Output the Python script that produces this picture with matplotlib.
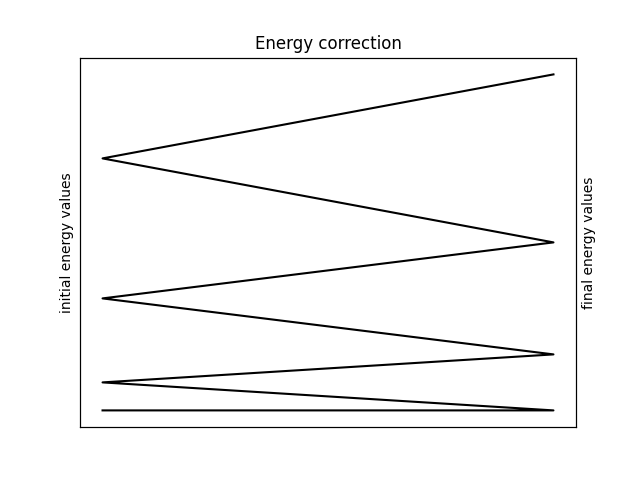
import matplotlib
matplotlib.use("Agg")
import matplotlib.pyplot as plt

# initial (left) and final (right) energy levels
initial_levels = [0, 1, 4, 9]
final_levels = [0, 2, 6, 12]

fig, ax = plt.subplots(figsize=(6.4, 4.8), dpi=100)

# path: horizontal ground line, then zigzag between levels
xs = [0, 1]
ys = [initial_levels[0], final_levels[0]]
for i in range(1, len(initial_levels)):
    xs += [0, 1]
    ys += [initial_levels[i], final_levels[i]]
ax.plot(xs, ys, color="black")

ax.set_xticks([])
ax.set_yticks([])
ax.set_title("Energy correction")
ax.set_ylabel("initial energy values")
ax2 = ax.twinx()
ax2.set_yticks([])
ax2.set_ylabel("final energy values")

plt.savefig("out.png")
